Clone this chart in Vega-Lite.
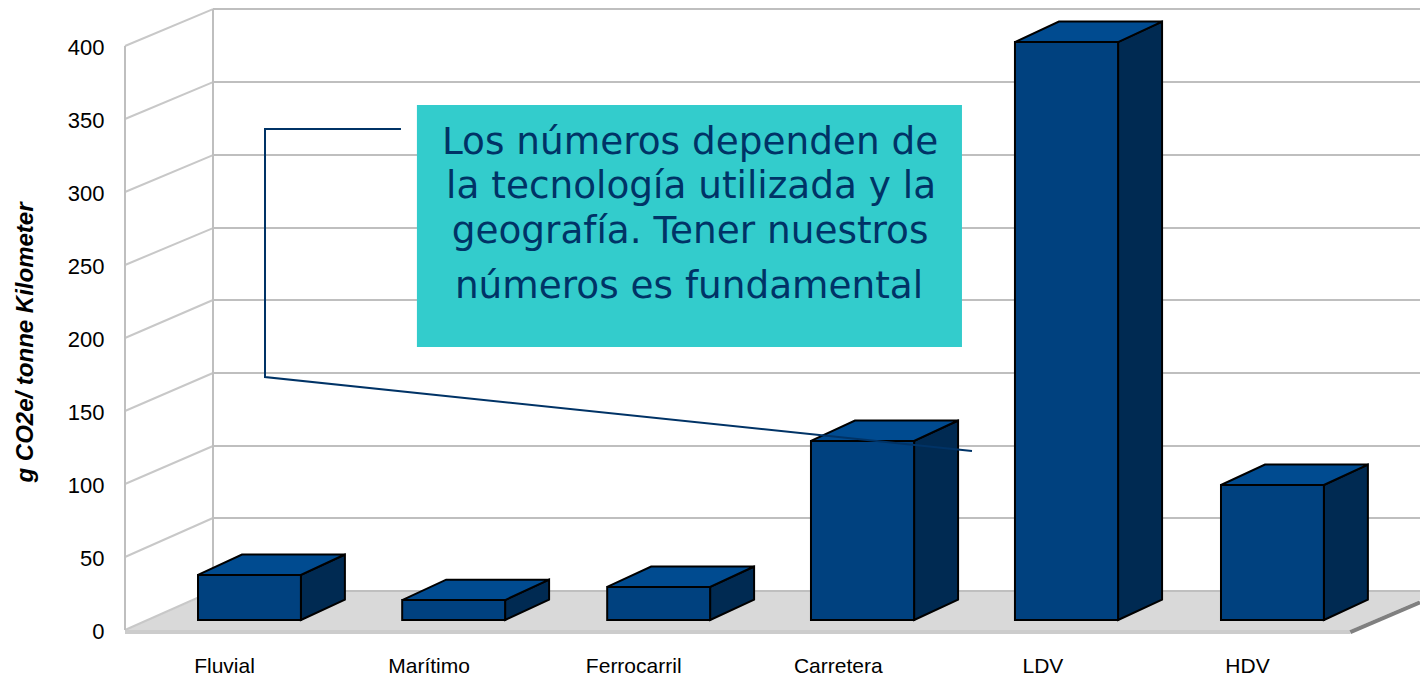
{
"$schema":"https://vega.github.io/schema/vega-lite/v6.json",
"width":1295,"height":645,"autosize":"none",
"padding":{"left":125,"top":0,"right":0,"bottom":32},
"background":"white",
"view":{"stroke":null},
"config":{"font":"Liberation Sans"},
"resolve":{"axis":{"x":"independent","y":"independent"}},
"datasets":{
"ticks":[{"tick":0,"wall":26.7},{"tick":50,"wall":76.7},{"tick":100,"wall":126},{"tick":150,"wall":176},{"tick":200,"wall":226},{"tick":250,"wall":275.3},{"tick":300,"wall":325.3},{"tick":350,"wall":375.3},{"tick":400,"wall":425.3}],
"floor":[{"pos":-0.4888,"low":0,"high":0},{"pos":-0.0587,"low":0,"high":26},{"pos":5.5,"low":0,"high":26},{"pos":5.8407,"low":20.5,"high":26}],
"bars":[
{"cat":"Fluvial","left":-0.132,"right":0.371,"base":6.85,"top":37.7},
{"cat":"Marítimo","left":0.866,"right":1.369,"base":6.85,"top":20.5},
{"cat":"Ferrocarril","left":1.868,"right":2.371,"base":6.85,"top":29.5},
{"cat":"Carretera","left":2.864,"right":3.368,"base":6.85,"top":129.5},
{"cat":"LDV","left":3.861,"right":4.365,"base":6.85,"top":402.7},
{"cat":"HDV","left":4.868,"right":5.371,"base":6.85,"top":99.3}],
"sides":[
{"cat":"Fluvial","pos":0.371,"low":6.85,"high":37.7},{"cat":"Fluvial","pos":0.586,"low":20.85,"high":51.7},
{"cat":"Marítimo","pos":1.369,"low":6.85,"high":20.5},{"cat":"Marítimo","pos":1.584,"low":20.85,"high":34.5},
{"cat":"Ferrocarril","pos":2.371,"low":6.85,"high":29.5},{"cat":"Ferrocarril","pos":2.586,"low":20.85,"high":43.5},
{"cat":"Carretera","pos":3.368,"low":6.85,"high":129.5},{"cat":"Carretera","pos":3.583,"low":20.85,"high":143.5},
{"cat":"LDV","pos":4.365,"low":6.85,"high":402.7},{"cat":"LDV","pos":4.58,"low":20.85,"high":416.7},
{"cat":"HDV","pos":5.371,"low":6.85,"high":99.3},{"cat":"HDV","pos":5.586,"low":20.85,"high":113.3}],
"tops":[
{"cat":"Fluvial","pos":-0.132,"low":37.7,"high":37.7},{"cat":"Fluvial","pos":0.083,"low":37.7,"high":51.7},{"cat":"Fluvial","pos":0.371,"low":37.7,"high":51.7},{"cat":"Fluvial","pos":0.586,"low":51.7,"high":51.7},
{"cat":"Marítimo","pos":0.866,"low":20.5,"high":20.5},{"cat":"Marítimo","pos":1.081,"low":20.5,"high":34.5},{"cat":"Marítimo","pos":1.369,"low":20.5,"high":34.5},{"cat":"Marítimo","pos":1.584,"low":34.5,"high":34.5},
{"cat":"Ferrocarril","pos":1.868,"low":29.5,"high":29.5},{"cat":"Ferrocarril","pos":2.083,"low":29.5,"high":43.5},{"cat":"Ferrocarril","pos":2.371,"low":29.5,"high":43.5},{"cat":"Ferrocarril","pos":2.586,"low":43.5,"high":43.5},
{"cat":"Carretera","pos":2.864,"low":129.5,"high":129.5},{"cat":"Carretera","pos":3.079,"low":129.5,"high":143.5},{"cat":"Carretera","pos":3.368,"low":129.5,"high":143.5},{"cat":"Carretera","pos":3.583,"low":143.5,"high":143.5},
{"cat":"LDV","pos":3.861,"low":402.7,"high":402.7},{"cat":"LDV","pos":4.076,"low":402.7,"high":416.7},{"cat":"LDV","pos":4.365,"low":402.7,"high":416.7},{"cat":"LDV","pos":4.58,"low":416.7,"high":416.7},
{"cat":"HDV","pos":4.868,"low":99.3,"high":99.3},{"cat":"HDV","pos":5.083,"low":99.3,"high":113.3},{"cat":"HDV","pos":5.371,"low":99.3,"high":113.3},{"cat":"HDV","pos":5.586,"low":113.3,"high":113.3}],
"leader":[{"n":1,"pos":0.86,"lvl":343.2},{"n":2,"pos":0.1955,"lvl":343.2},{"n":3,"pos":0.1955,"lvl":173.3},{"n":4,"pos":3.651,"lvl":122.6}],
"note":[
{"line":"Los números dependen de","pos":2.273,"lvl":333.5},
{"line":"la tecnología utilizada y la","pos":2.278,"lvl":303.4},
{"line":"geografía. Tener nuestros","pos":2.273,"lvl":272.6},
{"line":"números es fundamental","pos":2.268,"lvl":234.9}]
},
"layer":[
{"data":{"name":"floor"},"mark":{"type":"area","color":"#D9D9D9"},
 "encoding":{"x":{"field":"pos","type":"quantitative","scale":{"domain":[-0.4888,5.8407],"nice":false,"zero":false},
   "axis":{"values":[0,1,2,3,4,5],"labelExpr":"['Fluvial','Marítimo','Ferrocarril','Carretera','LDV','HDV'][datum.value]","title":null,"domain":false,"ticks":false,"grid":false,"labelFontSize":21,"labelColor":"#000000","labelPadding":10,"labelOffset":-1,"labelFlush":false,"labelOverlap":false}},
  "y":{"field":"low","type":"quantitative","scale":{"domain":[-10.274,431.507],"nice":false,"zero":false},
   "axis":{"values":[0,50,100,150,200,250,300,350,400],"title":"g CO2e/ tonne Kilometer","titleFontSize":24,"titleFontStyle":"italic","titleFontWeight":"bold","titleColor":"#000000","titleX":-88,"titleY":342,"domain":false,"ticks":false,"grid":false,"labelFontSize":22,"labelColor":"#000000","labelPadding":21,"labelOffset":1.5}},
  "y2":{"field":"high"}}},
{"data":{"name":"ticks"},"mark":{"type":"rect","color":"#CCCCCC"},
 "transform":[{"filter":"datum.tick==0"}],
 "encoding":{"x":{"datum":-0.4888,"type":"quantitative","axis":null},"x2":{"datum":5.5},"y":{"datum":0,"type":"quantitative","axis":null},"y2":{"datum":-2.7}}},
{"data":{"name":"ticks"},"mark":{"type":"rule","color":"#BFBFBF","strokeWidth":2},
 "encoding":{"x":{"datum":-0.0587,"type":"quantitative","axis":null},"x2":{"datum":5.8407},"y":{"field":"wall","type":"quantitative","axis":null}}},
{"data":{"name":"ticks"},"mark":{"type":"rule","color":"#C8C8C8","strokeWidth":2},
 "encoding":{"x":{"datum":-0.4888,"type":"quantitative","axis":null},"x2":{"datum":-0.0587},"y":{"field":"tick","type":"quantitative","axis":null},"y2":{"field":"wall"}}},
{"data":{"name":"ticks"},"mark":{"type":"rule","color":"#BFBFBF","strokeWidth":2},
 "transform":[{"filter":"datum.tick==0"}],
 "encoding":{"x":{"datum":-0.4888,"type":"quantitative","axis":null},"y":{"datum":0,"type":"quantitative","axis":null},"y2":{"datum":400}}},
{"data":{"name":"ticks"},"mark":{"type":"rule","color":"#BFBFBF","strokeWidth":2},
 "transform":[{"filter":"datum.tick==0"}],
 "encoding":{"x":{"datum":-0.0587,"type":"quantitative","axis":null},"y":{"datum":26,"type":"quantitative","axis":null},"y2":{"datum":425.3}}},
{"data":{"name":"ticks"},"mark":{"type":"rule","color":"#808080","strokeWidth":4},
 "transform":[{"filter":"datum.tick==0"}],
 "encoding":{"x":{"datum":5.5,"type":"quantitative","axis":null},"x2":{"datum":5.8407},"y":{"datum":-1.4,"type":"quantitative","axis":null},"y2":{"datum":19}}},
{"data":{"name":"sides"},"mark":{"type":"area","color":"#002A52","stroke":"#000000","strokeWidth":2},
 "encoding":{"detail":{"field":"cat"},"x":{"field":"pos","type":"quantitative","axis":null},"y":{"field":"low","type":"quantitative","axis":null},"y2":{"field":"high"}}},
{"data":{"name":"tops"},"mark":{"type":"area","color":"#004B90","stroke":"#000000","strokeWidth":2},
 "encoding":{"detail":{"field":"cat"},"x":{"field":"pos","type":"quantitative","axis":null},"y":{"field":"low","type":"quantitative","axis":null},"y2":{"field":"high"}}},
{"data":{"name":"bars"},"mark":{"type":"rect","color":"#00417F","stroke":"#000000","strokeWidth":2},
 "encoding":{"x":{"field":"left","type":"quantitative","axis":null},"x2":{"field":"right"},"y":{"field":"base","type":"quantitative","axis":null},"y2":{"field":"top"}}},
{"data":{"name":"ticks"},"mark":{"type":"rect","color":"#33CCCC"},
 "transform":[{"filter":"datum.tick==0"}],
 "encoding":{"x":{"datum":0.938,"type":"quantitative","axis":null},"x2":{"datum":3.602},"y":{"datum":193.8,"type":"quantitative","axis":null},"y2":{"datum":359.6}}},
{"data":{"name":"leader"},"mark":{"type":"line","color":"#003366","strokeWidth":2},
 "encoding":{"order":{"field":"n"},"x":{"field":"pos","type":"quantitative","axis":null},"y":{"field":"lvl","type":"quantitative","axis":null}}},
{"data":{"name":"note"},"mark":{"type":"text","font":"DejaVu Sans","fontSize":37.4,"color":"#003366","baseline":"middle","align":"center"},
 "encoding":{"text":{"field":"line"},"x":{"field":"pos","type":"quantitative","axis":null},"y":{"field":"lvl","type":"quantitative","axis":null}}}
]
}
